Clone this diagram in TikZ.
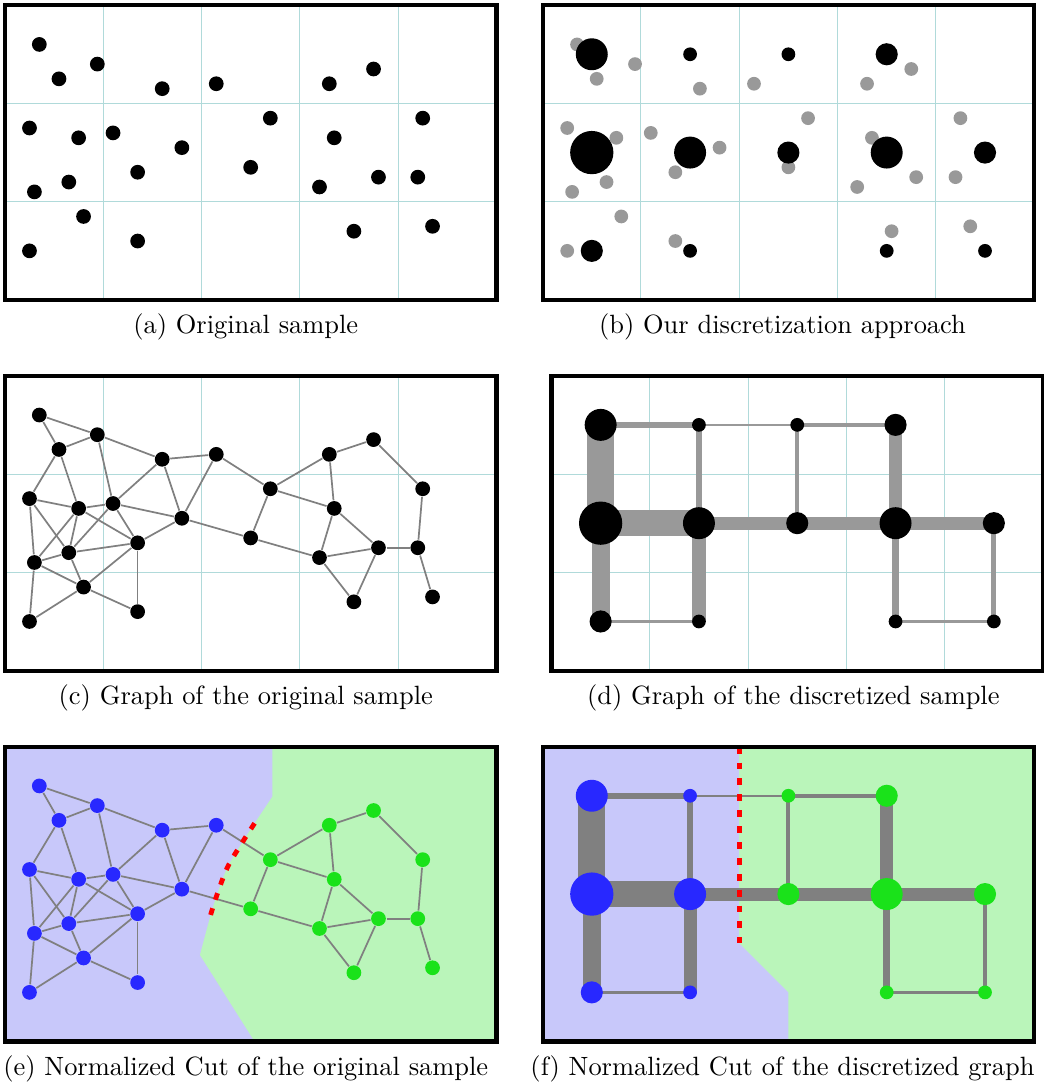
\documentclass[tikz,border=0pt]{standalone}
\usepackage{tikz}
\usetikzlibrary{backgrounds}
\definecolor{gridc}{RGB}{176,218,218}
\definecolor{ghost}{RGB}{153,153,153}
\definecolor{wire}{RGB}{128,128,128}
\definecolor{wirelt}{RGB}{153,153,153}
\definecolor{cutL}{RGB}{40,40,255}
\definecolor{cutR}{RGB}{26,226,26}
\definecolor{bgL}{RGB}{200,200,250}
\definecolor{bgR}{RGB}{186,245,186}
\tikzset{
  panelframe/.style={draw=black, line width=1.2pt},
  cellgrid/.style={draw=gridc, line width=0.3pt},
  smp/.style={circle, fill=black, inner sep=0pt, minimum size=1.5mm},
  ghostpt/.style={smp, fill=ghost, minimum size=1.4mm},
  cellpt/.style={circle, fill=black, inner sep=0pt},
  link/.style={draw=wire, line width=0.5pt},
  cutline/.style={draw=red, line width=1.4pt, dash pattern=on 2pt off 2.6pt},
  subcap/.style={anchor=base, scale=0.765, transform shape},
}
% sample points: name/x/y/side of the cut
\newcommand{\samplepts}{1/0.35/2.60/L, 2/0.55/2.25/L, 3/0.94/2.40/L, 4/1.60/2.15/L,
  5/2.15/2.20/L, 6/3.30/2.20/R, 7/3.75/2.35/R, 8/0.25/1.75/L, 9/0.75/1.65/L,
  10/1.10/1.70/L, 11/1.80/1.55/L, 12/2.70/1.85/R, 13/3.35/1.65/R, 14/4.25/1.85/R,
  15/1.35/1.30/L, 16/2.50/1.35/R, 17/0.65/1.20/L, 18/0.30/1.10/L, 19/3.20/1.15/R,
  20/3.80/1.25/R, 21/4.20/1.25/R, 22/0.80/0.85/L, 23/0.25/0.50/L, 24/1.35/0.60/L,
  25/3.55/0.70/R, 26/4.35/0.75/R}
\newcommand{\sampleedges}{1/2, 1/3, 2/3, 3/4, 3/10, 2/8, 2/9, 4/5, 4/10, 4/11, 5/11,
  5/12, 6/7, 6/12, 6/13, 7/14, 8/9, 8/18, 8/17, 9/10, 9/15, 9/17, 9/18, 10/11,
  10/15, 10/17, 11/15, 11/16, 12/16, 12/13, 13/19, 13/20, 14/21, 15/17, 15/22,
  15/24, 16/19, 17/18, 17/22, 18/22, 18/23, 22/23, 22/24, 19/20, 19/25, 20/21,
  20/25, 21/26}
% cell nodes: name/x/y/diameter/side
\newcommand{\cellpts}{1/0.5/2.5/0.325/L, 2/1.5/2.5/0.14/L, 3/2.5/2.5/0.14/R,
  4/3.5/2.5/0.225/R, 5/0.5/1.5/0.44/L, 6/1.5/1.5/0.325/L, 7/2.5/1.5/0.225/R,
  8/3.5/1.5/0.325/R, 9/4.5/1.5/0.225/R, 10/0.5/0.5/0.225/L, 11/1.5/0.5/0.14/L,
  12/3.5/0.5/0.14/R, 13/4.5/0.5/0.14/R}
% cell edges: from/to/width in pt
\newcommand{\celledges}{1/2/1.7, 2/3/0.5, 3/4/1.3, 1/5/7.7, 5/6/7.7, 5/10/5.2,
  2/6/1.9, 6/11/3.8, 10/11/1.0, 6/7/3.8, 3/7/1.2, 7/8/3.8, 4/8/3.6, 8/9/3.8,
  8/12/2.0, 12/13/0.9, 9/13/1.4}

\begin{document}
\begin{tikzpicture}
  \useasboundingbox (0,0) rectangle (10.61,11.027);

  % (a)
  \begin{scope}[shift={(0.05,7.975)}]
    \draw[cellgrid] (0,0) grid (5,3);
    \foreach \n/\x/\y/\g in \samplepts
      \node[smp] (a\n) at (\x,\y) {};
    \draw[panelframe] (0,0) rectangle (5,3);
    \node[subcap] (capa) at (2.45,-0.345) {(a) Original sample};
  \end{scope}

  % (b)
  \begin{scope}[shift={(5.52,7.975)}]
    \draw[cellgrid] (0,0) grid (5,3);
    \foreach \n/\x/\y/\g in \samplepts
      \node[ghostpt] (g\n) at (\x,\y) {};
    \foreach \n/\x/\y/\s/\g in \cellpts
      \node[cellpt, minimum size=\s cm] (b\n) at (\x,\y) {};
    \draw[panelframe] (0,0) rectangle (5,3);
    \node[subcap] (capb) at (2.44,-0.345) {(b) Our discretization approach};
  \end{scope}

  % (c)
  \begin{scope}[shift={(0.05,4.205)}]
    \draw[cellgrid] (0,0) grid (5,3);
    \foreach \n/\x/\y/\g in \samplepts
      \node[smp] (c\n) at (\x,\y) {};
    \foreach \a/\b in \sampleedges
      \draw[link] (c\a) -- (c\b);
    \draw[panelframe] (0,0) rectangle (5,3);
    \node[subcap] (capc) at (2.45,-0.345) {(c) Graph of the original sample};
  \end{scope}

  % (d)
  \begin{scope}[shift={(5.61,4.205)}]
    \foreach \n/\x/\y/\s/\g in \cellpts
      \node[cellpt, minimum size=\s cm] (d\n) at (\x,\y) {};
    \begin{scope}[on background layer]
      \draw[cellgrid] (0,0) grid (5,3);
      \foreach \a/\b/\w in \celledges
        \draw[wirelt, line width=\w pt] (d\a.center) -- (d\b.center);
    \end{scope}
    \draw[panelframe] (0,0) rectangle (5,3);
    \node[subcap] (capd) at (2.46,-0.345) {(d) Graph of the discretized sample};
  \end{scope}

  % (e)
  \begin{scope}[shift={(0.05,0.432)}]
    \fill[bgL] (0,0) rectangle (5,3);
    \fill[bgR] (2.72,3) -- (2.72,2.49) -- plot[smooth] coordinates {(2.54,2.22)
      (2.43,2.05) (2.265,1.775) (2.153,1.48) (2.079,1.236) (1.984,0.88)}
      -- (2.54,0) -- (5,0) -- (5,3) -- cycle;
    \foreach \n/\x/\y/\g in \samplepts
      \node[smp, fill=cut\g] (e\n) at (\x,\y) {};
    \foreach \a/\b in \sampleedges
      \draw[link] (e\a) -- (e\b);
    \draw[cutline] plot[smooth] coordinates {(2.54,2.22) (2.43,2.05) (2.265,1.775)
      (2.153,1.48) (2.09,1.28)};
    \draw[panelframe] (0,0) rectangle (5,3);
    \node[subcap] (cape) at (2.45,-0.345) {(e) Normalized Cut of the original sample};
  \end{scope}

  % (f)
  \begin{scope}[shift={(5.52,0.432)}]
    \foreach \n/\x/\y/\s/\g in \cellpts
      \node[cellpt, fill=cut\g, minimum size=\s cm] (f\n) at (\x,\y) {};
    \begin{scope}[on background layer]
      \fill[bgL] (0,0) rectangle (5,3);
      \fill[bgR] (2,3) -- (2,1) -- (2.5,0.5) -- (2.5,0) -- (5,0) -- (5,3) -- cycle;
      \foreach \a/\b/\w in \celledges
        \draw[wire, line width=\w pt] (f\a.center) -- (f\b.center);
    \end{scope}
    \draw[cutline] (2,3) -- (2,1);
    \draw[panelframe] (0,0) rectangle (5,3);
    \node[subcap] (capf) at (2.44,-0.345) {(f) Normalized Cut of the discretized graph};
  \end{scope}
\end{tikzpicture}
\end{document}
